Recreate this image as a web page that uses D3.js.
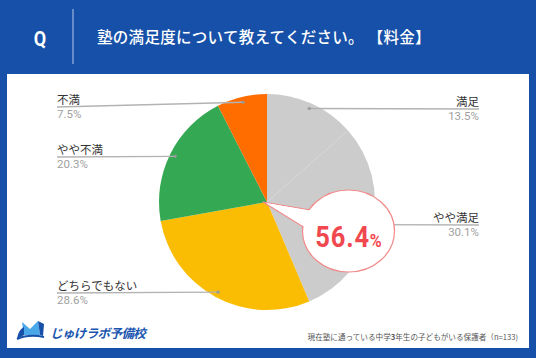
<!DOCTYPE html>
<html><head><meta charset="utf-8">
<script src="https://cdn.jsdelivr.net/npm/d3@7"></script>
<style>
html,body{margin:0;padding:0;background:#1650a8;}
svg{display:block;font-family:"Noto Sans CJK JP","Noto Sans",sans-serif;}
</style></head>
<body>
<svg id="c" width="536" height="358"></svg>
<script>
const categories = ["満足", "やや満足", "どちらでもない", "やや不満", "不満"];
const values = [13.5, 30.1, 28.6, 20.3, 7.5];
const pctLabels = ["13.5%", "30.1%", "28.6%", "20.3%", "7.5%"];
const colors = ["#cccccc", "#cccccc", "#fbbc04", "#34a853", "#ff6d01"];
const highlight = "56.4";
const title = "塾の満足度について教えてください。 【料金】";
const footPre = "現在塾に通っている中学", footNum = "3", footPost = "年生の子どもがいる保護者（n=133)";

const svg = d3.select("#c");
svg.append("rect").attr("width",536).attr("height",358).attr("fill","#1650a8");
svg.append("rect").attr("x",7).attr("y",74).attr("width",522).attr("height",274).attr("fill","#fff");

// header
svg.append("text").attr("x",40).attr("y",46).attr("text-anchor","middle")
  .attr("fill","#fff").attr("font-size",20).attr("font-weight","bold")
  .attr("transform","translate(40,0) scale(0.9,1) translate(-40,0)")
  .attr("font-family","Roboto, sans-serif").text("Q");
svg.append("line").attr("x1",73).attr("x2",73).attr("y1",9).attr("y2",64)
  .attr("stroke","#9fb6e0").attr("stroke-width",1.2);
svg.append("text").attr("x",97).attr("y",43).attr("fill","#fff")
  .attr("font-size",15.5).attr("letter-spacing",0.3).attr("font-weight","500").text(title);

// pie
const cx = 267, cy = 202, R = 108;
const pie = d3.pie().sort(null).value(d=>d)(values);
const arc = d3.arc().innerRadius(0).outerRadius(R);
const g = svg.append("g").attr("transform",`translate(${cx},${cy})`);
g.selectAll("path").data(pie).join("path")
  .attr("d",arc).attr("fill",(d,i)=>colors[i]);
// faint separator between the two grey slices
g.append("line").attr("x1",0).attr("y1",0)
  .attr("x2",Math.sin(pie[0].endAngle)*R).attr("y2",-Math.cos(pie[0].endAngle)*R)
  .attr("stroke","#d5d5d5").attr("stroke-width",0.7);

// labels: side, text x, line y at the label end
const labelCfg = [
  {side:"right", x:479, ly:109},
  {side:"right", x:479, ly:225},
  {side:"left",  x:57,  ly:293},
  {side:"left",  x:57,  ly:157},
  {side:"left",  x:57,  ly:107}
];
const rf = 0.95;
const lg = svg.append("g");
pie.forEach((d,i)=>{
  const c = labelCfg[i];
  const a = (d.startAngle+d.endAngle)/2;
  const px = cx + Math.sin(a)*R*rf, py = cy - Math.cos(a)*R*rf;
  lg.append("line").attr("x1",c.x).attr("y1",c.ly).attr("x2",px).attr("y2",py)
    .attr("stroke","#b3b3b3").attr("stroke-width",1.3);
  lg.append("circle").attr("cx",px).attr("cy",py).attr("r",1.6).attr("fill","#999");
  const anchor = c.side==="right"?"end":"start";
  lg.append("text").attr("x",c.x).attr("y",c.ly-3.5).attr("text-anchor",anchor)
    .attr("fill","#333").attr("font-size",11.5).text(categories[i]);
  lg.append("text").attr("x",c.x).attr("y",c.ly+11).attr("text-anchor",anchor)
    .attr("fill","#a0a0a0").attr("font-size",11.5).attr("font-family","Roboto, 'Noto Sans', sans-serif").text(pctLabels[i]);
});

// callout
const ex = 348.5, ey = 231, rx = 46, ry = 41;
const co = svg.append("g");
const tip = [263, 202];
const a1 = -2.6, a2 = -3.03;
const P = (a,k=0)=>[ex+(rx-k)*Math.cos(a), ey+(ry-k)*Math.sin(a)];
co.append("path").attr("d",`M${P(a1)} L${tip} L${P(a2)} Z`)
  .attr("fill","#fff").attr("stroke","#f28a8a").attr("stroke-width",1.2).attr("stroke-linejoin","round");
co.append("ellipse").attr("cx",ex).attr("cy",ey).attr("rx",rx).attr("ry",ry)
  .attr("fill","#fff").attr("stroke","#f28a8a").attr("stroke-width",1.2);
co.append("path").attr("d",`M${P(a1,1.2)} L${tip[0]+4},${tip[1]+1.2} L${P(a2,1.2)} Z`).attr("fill","#fff");
const t = co.append("text").attr("text-anchor","middle")
  .attr("transform","translate(348.5,246.5) scale(0.85,1)")
  .attr("fill","#f0484e").attr("font-family","Roboto, sans-serif").attr("font-weight","bold");
t.append("tspan").attr("font-size",30).attr("letter-spacing",1).text(highlight);
t.append("tspan").attr("font-size",19).text("%");

// footer logo
const logo = svg.append("g");
logo.append("path").attr("d","M22,322 L30,329 L38,321 L40,335 L24,335 Z").attr("fill","#4aa8e8");
logo.append("path").attr("d","M38,321 L44,324 L43,336 L40,335 Z").attr("fill","#1650a8");
logo.append("path").attr("d","M17,339 C18,333 20,329 24,327 L24,335 Z").attr("fill","#1650a8");
logo.append("path").attr("d","M17,339 C26,335 34,335 44,337").attr("fill","none").attr("stroke","#1650a8").attr("stroke-width",2);
logo.append("text").attr("x",50).attr("y",338).attr("fill","#1a56b0").attr("font-size",12.5)
  .attr("letter-spacing",-0.6).attr("font-weight","bold").attr("font-style","italic").text("じゅけラボ予備校");

const fn = svg.append("text").attr("x",518).attr("y",340).attr("text-anchor","end").attr("fill","#555")
  .attr("font-size",7.6);
fn.append("tspan").text(footPre);
fn.append("tspan").attr("font-weight","bold").text(footNum);
fn.append("tspan").text(footPost);
</script>
</body></html>
